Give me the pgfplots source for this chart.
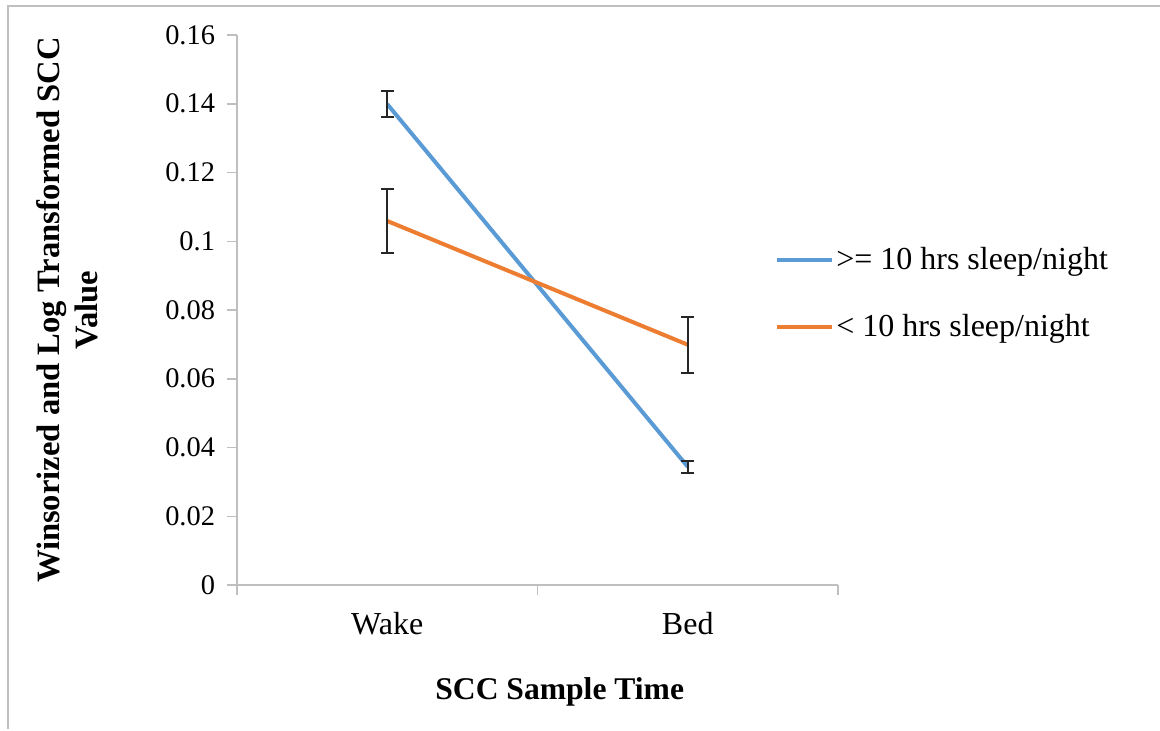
\documentclass[border=0pt]{standalone}
\usepackage{fontspec}
\setmainfont{Liberation Serif}
\usepackage{pgfplots}
\pgfplotsset{compat=1.18}
\definecolor{xlblue}{HTML}{5B9BD5}
\definecolor{xlorange}{HTML}{ED7D31}
\definecolor{axgrey}{HTML}{BFBFBF}
\begin{document}
\begin{tikzpicture}
\useasboundingbox (0,0) rectangle (580bp,-365.5bp);
\draw[axgrey, line width=0.9bp] (4bp,-364.5bp) -- (4bp,-3bp) -- (580bp,-3bp);
\begin{axis}[
  at={(118.5bp,-292.5bp)}, anchor=south west,
  scale only axis, width=300.5bp, height=275bp,
  xmin=-0.5, xmax=1.5, ymin=0, ymax=0.16,
  axis x line*=bottom, axis y line*=left,
  axis line style={axgrey, line width=0.75bp, -},
  tick align=outside,
  major tick length=5bp,
  tick style={axgrey, line width=0.75bp},
  xtick={-0.5,0.5,1.5}, xticklabels={},
  extra x ticks={0,1}, extra x tick labels={Wake,Bed},
  extra x tick style={tick style={draw=none},
     ticklabel style={font=\fontsize{16bp}{18bp}\selectfont, yshift=-5bp}},
  ytick={0,0.02,0.04,0.06,0.08,0.1,0.12,0.14,0.16},
  scaled y ticks=false,
  yticklabel style={/pgf/number format/fixed, /pgf/number format/precision=2,
     font=\fontsize{14.2bp}{16bp}\selectfont, xshift=-2.5bp},
  /pgf/number format/assume math mode=true,
  xlabel={SCC Sample Time},
  xlabel style={font=\bfseries\fontsize{15.8bp}{18bp}\selectfont,
     at={(axis description cs:0.537,-0.194)}, anchor=center},
  ylabel={Winsorized and Log Transformed SCC\\Value},
  ylabel style={font=\bfseries\fontsize{16.3bp}{19bp}\selectfont, align=center,
     at={(axis description cs:-0.283,0.5)}, anchor=center, rotate=0},
  legend style={at={(axis description cs:0.895,0.53)}, anchor=west,
     draw=none, fill=none, font=\fontsize{16bp}{19bp}\selectfont,
     row sep=19bp, inner sep=0pt, nodes={inner sep=1bp}},
  legend cell align=left,
  legend image code/.code={\draw[#1, line width=2bp] (0bp,0bp) -- (27.5bp,0bp);},
  error bars/y dir=both, error bars/y explicit,
  error bars/error bar style={line width=1bp, black!85},
  error bars/error mark options={rotate=90, mark size=3.2bp, line width=1bp, black!85},
]
\addplot[xlblue, line width=2bp, mark=none] table[x=x, y=y, y error=e] {
x y e
0 0.1399 0.0037
1 0.0344 0.0018
};
\addlegendentry{>= 10 hrs sleep/night}
\addplot[xlorange, line width=2bp, mark=none] table[x=x, y=y, y error=e] {
x y e
0 0.1059 0.0093
1 0.0699 0.0081
};
\addlegendentry{< 10 hrs sleep/night}
\end{axis}
\end{tikzpicture}
\end{document}
